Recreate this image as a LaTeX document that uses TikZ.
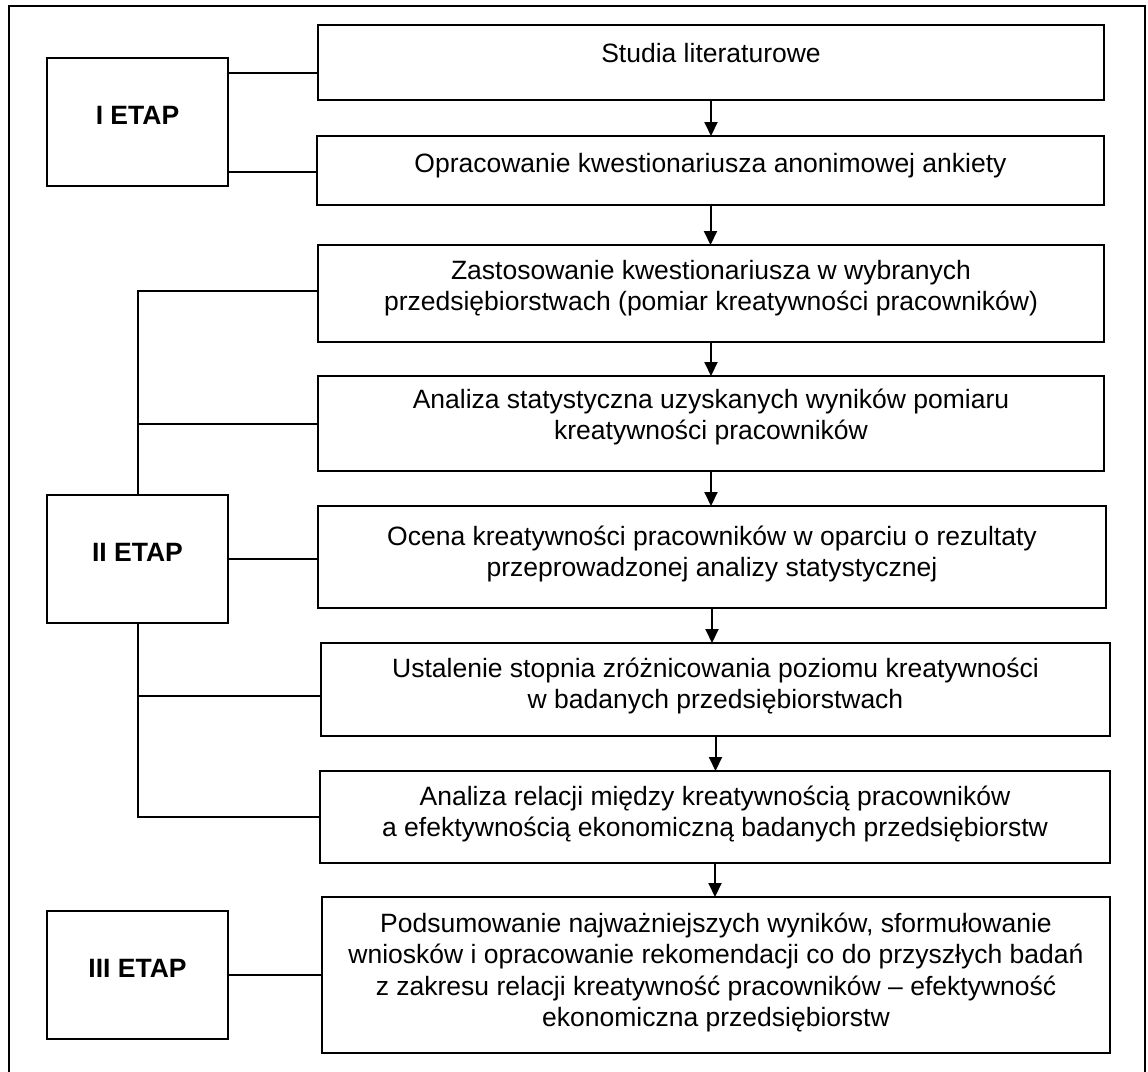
\documentclass[tikz,border=0pt]{standalone}
\usepackage{fontspec}
\setmainfont{Liberation Sans}
\usetikzlibrary{arrows.meta}
\begin{document}
\begin{tikzpicture}[x=1pt,y=-1pt,
  frame/.style={draw, line width=2pt},
  stepbox/.style={draw, line width=2pt, rectangle, anchor=north west,
    inner sep=0pt, outer sep=0pt},
  stagebox/.style={stepbox, minimum width=181pt, minimum height=128pt,
    text height=19pt, text depth=14pt,
    font=\fontsize{26.5}{31.5}\selectfont\bfseries},
  txt/.style={anchor=north, align=center, inner sep=0pt,
    font=\fontsize{26.5}{31.5}\selectfont},
  link/.style={line width=2pt},
  flow/.style={line width=2pt, -{Triangle[width=13pt,length=14pt]}},
]
\clip (0,0) rectangle (1148,1071);
% outer frame (bottom edge lies below the page)
\draw[frame] (9,6) rectangle (1145,1095);

% stage boxes
\node[stagebox] (s1) at (47,58)  {I ETAP};
\node[stagebox] (s2) at (47,495) {II ETAP};
\node[stagebox] (s3) at (47,911) {III ETAP};

% step boxes
\node[stepbox, minimum width=786pt, minimum height=75pt]  (b1) at (318,25)  {};
\node[stepbox, minimum width=787pt, minimum height=69pt]  (b2) at (317,136) {};
\node[stepbox, minimum width=786pt, minimum height=97pt]  (b3) at (318,245) {};
\node[stepbox, minimum width=786pt, minimum height=95pt]  (b4) at (318,376) {};
\node[stepbox, minimum width=788pt, minimum height=102pt] (b5) at (318,506) {};
\node[stepbox, minimum width=789pt, minimum height=93pt]  (b6) at (321,643) {};
\node[stepbox, minimum width=790pt, minimum height=92pt]  (b7) at (320,771) {};
\node[stepbox, minimum width=788pt, minimum height=156pt] (b8) at (322,897) {};

% step texts
\node[txt] (t1) at ([yshift=-15pt]b1.north) {\strut Studia literaturowe};
\node[txt] (t2) at ([yshift=-14pt]b2.north) {\strut Opracowanie kwestionariusza anonimowej ankiety};
\node[txt] (t3) at ([yshift=-12pt]b3.north) {\strut Zastosowanie kwestionariusza w wybranych\\
  przedsiębiorstwach (pomiar kreatywności pracowników)};
\node[txt] (t4) at ([yshift=-10pt]b4.north) {\strut Analiza statystyczna uzyskanych wyników pomiaru\\
  kreatywności pracowników};
\node[txt] (t5) at ([yshift=-17pt]b5.north) {\strut Ocena kreatywności pracowników w oparciu o rezultaty\\
  przeprowadzonej analizy statystycznej};
\node[txt] (t6) at ([yshift=-12pt]b6.north) {\strut Ustalenie stopnia zróżnicowania poziomu kreatywności\\
  w badanych przedsiębiorstwach};
\node[txt] (t7) at ([yshift=-12pt]b7.north) {\strut Analiza relacji między kreatywnością pracowników\\
  a efektywnością ekonomiczną badanych przedsiębiorstw};
\node[txt] (t8) at ([yshift=-13pt]b8.north) {\strut Podsumowanie najważniejszych wyników, sformułowanie\\
  wniosków i opracowanie rekomendacji co do przyszłych badań\\
  z zakresu relacji kreatywność pracowników – efektywność\\
  ekonomiczna przedsiębiorstw};

% flow arrows
\draw[flow] (b1.south) -- (b1.south |- b2.north);
\draw[flow] (b2.south) -- (b2.south |- b3.north);
\draw[flow] (b3.south) -- (b3.south |- b4.north);
\draw[flow] (b4.south) -- (b4.south |- b5.north);
\draw[flow] (b5.south) -- (b5.south |- b6.north);
\draw[flow] (b6.south) -- (b6.south |- b7.north);
\draw[flow] (b7.south) -- (b7.south |- b8.north);

% stage I links
\coordinate (j1) at ([yshift=-15pt]s1.north east);
\coordinate (j2) at ([yshift=14pt]s1.south east);
\draw[link] (j1) -- (j1 -| b1.west);
\draw[link] (j2) -- (j2 -| b2.west);

% stage II links
\coordinate (k1) at ([yshift=2.5pt]b3.west);
\coordinate (k2) at ([yshift=-6.5pt]b6.west);
\draw[link] (s2.north) |- (k1);
\draw[link] (s2.north |- b4.west) -- (b4.west);
\draw[link] (s2.east) -- (s2.east -| b5.west);
\draw[link] (s2.south) |- (b7.west);
\draw[link] (s2.south |- k2) -- (k2);

% stage III link
\draw[link] (s3.east) -- (s3.east -| b8.west);
\end{tikzpicture}
\end{document}
